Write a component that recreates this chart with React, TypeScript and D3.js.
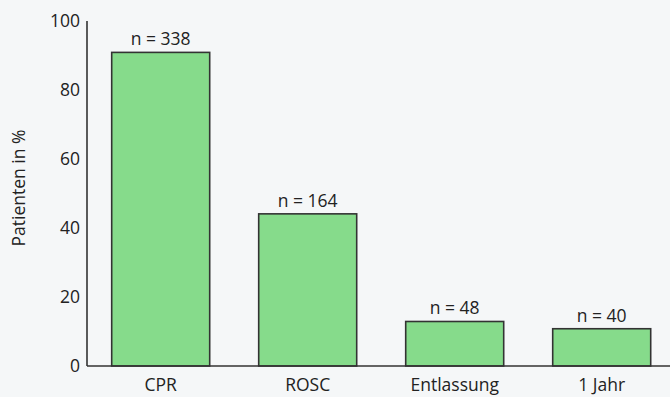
import React from "react";
import * as d3 from "d3";

const categories = ["CPR", "ROSC", "Entlassung", "1 Jahr"];
const percentages = [90.9, 44.1, 12.9, 10.8];
const counts = [338, 164, 48, 40];
const yTicks = [0, 20, 40, 60, 80, 100];

const W = 670;
const H = 397;
const axisX = 87;
const baseY = 366;
const topY = 21;

export default function App() {
  const y = d3.scaleLinear().domain([0, 100]).range([baseY, topY]);
  const x = d3
    .scaleBand<string>()
    .domain(categories)
    .range([axisX, 675.4])
    .paddingInner(1 / 3)
    .paddingOuter(0.168);

  const font = "'Open Sans', 'Noto Sans', sans-serif";
  const ink = "#222";
  const fs = 17.5;

  return (
    <svg
      width={W}
      height={H}
      style={{ position: "absolute", left: 0, top: 0, background: "#f5f7f8" }}
      fontFamily={font}
    >
      <rect x={0} y={0} width={W} height={H} fill="#f5f7f8" />

      {/* bars */}
      {categories.map((c, i) => (
        <g key={c}>
          <rect
            x={x(c)}
            y={y(percentages[i])}
            width={x.bandwidth()}
            height={baseY - y(percentages[i])}
            fill="#86db8b"
            stroke="#333"
            strokeWidth={1.6}
          />
          <text
            x={(x(c) as number) + x.bandwidth() / 2}
            y={y(percentages[i]) - 7}
            textAnchor="middle"
            fontSize={fs}
            fill={ink}
          >
            {`n = ${counts[i]}`}
          </text>
          <text
            x={(x(c) as number) + x.bandwidth() / 2}
            y={391}
            textAnchor="middle"
            fontSize={fs}
            fill={ink}
          >
            {c}
          </text>
        </g>
      ))}

      {/* axes */}
      <line x1={axisX} x2={axisX} y1={topY} y2={baseY} stroke="#333" strokeWidth={1.6} />
      <line x1={axisX} x2={W} y1={baseY} y2={baseY} stroke="#333" strokeWidth={1.6} />

      {yTicks.map((t) => (
        <text
          key={t}
          x={80}
          y={y(t) + 1}
          textAnchor="end"
          dominantBaseline="middle"
          fontSize={fs}
          fill={ink}
        >
          {t}
        </text>
      ))}

      <text
        transform={`translate(25, 188) rotate(-90)`}
        textAnchor="middle"
        fontSize={17.5}
        fill={ink}
      >
        Patienten in %
      </text>
    </svg>
  );
}
